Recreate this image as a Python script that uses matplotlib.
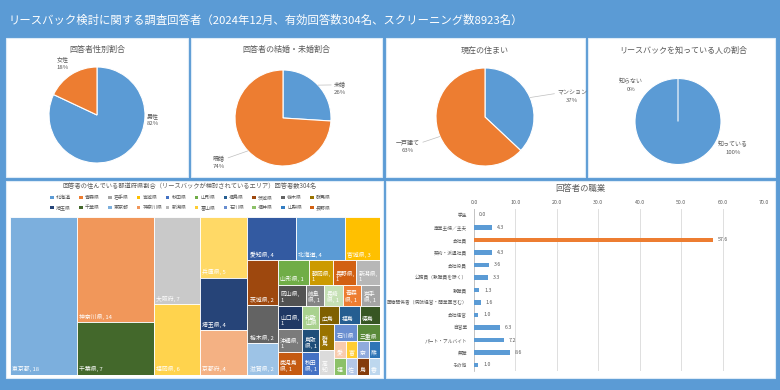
"""Dashboard of the lease-back survey: four pies, a prefecture treemap and an occupation bar chart."""

import numpy as np
import matplotlib
matplotlib.use('Agg')
import matplotlib.pyplot as plt
from matplotlib.patches import Rectangle

plt.rcParams['font.family'] = ['Noto Sans CJK JP', 'DejaVu Sans']

# ---- data ----
title = 'リースバック検討に関する調査回答者（2024年12月、有効回答数304名、スクリーニング数8923名）'

gender_labels = ['男性', '女性']
gender_pct = [82, 18]
marital_labels = ['未婚', '既婚']
marital_pct = [26, 74]
housing_labels = ['マンション', '一戸建て']
housing_pct = [37, 63]
aware_labels = ['知っている', '知らない']
aware_pct = [100, 0]

jobs = ['学生', '専業主婦／主夫', '会社員', '契約・派遣社員', '会社役員', '公務員（教職員を除く）',
        '教職員', '医療関係者（病院経営・開業医含む）', '会社経営', '自営業', 'パート・アルバイト',
        '無職', 'その他']
job_pct = [0.0, 4.3, 57.6, 4.3, 3.6, 3.3, 1.3, 1.6, 1.0, 6.3, 7.2, 8.6, 1.0]

n_resp = 304
prefs = ['東京都', '神奈川県', '千葉県', '大阪府', '福岡県', '兵庫県', '埼玉県', '京都府',
         '愛知県', '北海道', '宮城県', '茨城県', '栃木県', '滋賀県',
         '山形県', '静岡県', '長野県', '新潟県',
         '岡山県', '岐阜県', '長崎県', '青森県', '岩手県',
         '山口県', '沖縄県', '鹿児島県', '和歌山県', '鳥取県', '秋田県',
         '広島県', '福島県', '徳島県', '群馬県', '高知県', '石川県', '三重県',
         '愛媛県', '富山県', '奈良県', '熊本県', '福井県', '佐賀県', '島根県', '香川県']
pref_counts = [55, 42, 21, 21, 17, 15, 13, 11,
               11, 11, 8, 7, 6, 5,
               4, 3, 3, 3,
               3, 2, 2, 2, 2,
               3, 3, 3, 2, 2, 2,
               2, 2, 2, 2, 2, 2, 2,
               1, 1, 1, 1, 1, 1, 1, 1]

# legend entries (prefecture code order)
jis_prefs = ['北海道', '青森県', '岩手県', '宮城県', '秋田県', '山形県', '福島県', '茨城県', '栃木県', '群馬県',
             '埼玉県', '千葉県', '東京都', '神奈川県', '新潟県', '富山県', '石川県', '福井県', '山梨県', '長野県',
             '岐阜県', '静岡県', '愛知県', '三重県', '滋賀県', '京都府', '大阪府', '兵庫県', '奈良県', '和歌山県',
             '鳥取県', '島根県', '岡山県', '広島県', '山口県', '徳島県', '香川県', '愛媛県', '高知県', '福岡県',
             '佐賀県', '長崎県', '熊本県', '鹿児島県', '沖縄県']
jis_colors = ['#5B9BD5', '#ED7D31', '#A5A5A5', '#FFC000', '#4472C4', '#70AD47', '#255E91', '#9E480E', '#636363', '#997300',
              '#264478', '#43682B', '#7CAFDD', '#F1975A', '#B7B7B7', '#FFCD33', '#698ED0', '#8CC168', '#327DC2', '#D26012',
              '#848484', '#CC9A00', '#335AA1', '#5A8A39', '#9DC3E6', '#F4B183', '#C9C9C9', '#FFD966', '#8FAADC', '#A9D18E',
              '#1F4E79', '#843C0C', '#525252', '#7F6000', '#203864', '#375623', '#BDD7EE', '#F8CBAD', '#DBDBDB', '#FFD34D',
              '#B4C7E7', '#C5E0B4', '#2E75B6', '#C55A11', '#7B7B7B']
pref_color = dict(zip(jis_prefs, jis_colors))

# treemap strips: orientation and number of items taken from the remaining area
strips = [('V', 1), ('V', 2), ('V', 2), ('V', 3), ('H', 3), ('V', 3), ('H', 4), ('H', 5),
          ('V', 3), ('V', 3), ('H', 3), ('V', 2), ('H', 2), ('H', 4), ('H', 4)]

# ---- style ----
BG = '#5B9BD5'
BLUE = '#5B9BD5'
ORANGE = '#ED7D31'
GRAY = '#595959'
FW, FH = 780, 390

fig = plt.figure(figsize=(FW / 100, FH / 100), dpi=100, facecolor=BG)
bg = fig.add_axes([0, 0, 1, 1])
bg.set_xlim(0, FW)
bg.set_ylim(FH, 0)
bg.axis('off')


def px_axes(x, y, w, h):
    return fig.add_axes([x / FW, 1 - (y + h) / FH, w / FW, h / FH])


# panels
for (x0, y0, x1, y1) in [(6, 38, 188, 177), (191, 38, 382, 177), (386, 38, 585, 177),
                         (588, 38, 775, 177), (6, 181, 383, 378), (386, 181, 775, 378)]:
    bg.add_patch(Rectangle((x0, y0), x1 - x0, y1 - y0, facecolor='white', edgecolor='#DDEBF7', lw=0.8))

bg.text(9, 20, title, color='white', fontsize=8.2, ha='left', va='center')

# ---- pies ----
pies = [
    (gender_labels, gender_pct, '回答者性別割合', (97, 49), (97, 115, 48),
     [(1.17, -0.1, False), (-0.71, 1.08, False)]),
    (marital_labels, marital_pct, '回答者の結婚・未婚割合', (286, 49), (283, 118, 48),
     [(1.19, 0.62, True), (-1.33, -0.92, True)]),
    (housing_labels, housing_pct, '現在の住まい', (485, 50), (485, 117, 49),
     [(1.78, 0.42, True), (-1.57, -0.6, True)]),
    (aware_labels, aware_pct, 'リースバックを知っている人の割合', (683, 50), (678, 121.5, 43),
     [(1.28, -0.62, False), (-1.09, 0.85, False)]),
]
for labels, vals, ttl, tpos, (cx, cy, r), lpos in pies:
    bg.text(tpos[0], tpos[1], ttl, color=GRAY, fontsize=5.8, ha='center', va='center')
    k = 2.2
    ax = px_axes(cx - k * r, cy - k * r, 2 * k * r, 2 * k * r)
    wedges, _ = ax.pie(vals, colors=[BLUE, ORANGE], startangle=90, counterclock=False,
                       wedgeprops=dict(edgecolor='white', linewidth=0.8))
    ax.set_xlim(-k, k)
    ax.set_ylim(-k, k)
    ax.axis('off')
    for w, lab, v, (lx, ly, leader) in zip(wedges, labels, vals, lpos):
        txt = f'{lab}\n{v}%'
        if leader:
            a = np.deg2rad((w.theta1 + w.theta2) / 2)
            side = 0 if lx > 0 else 1
            ax.annotate(txt, xy=(np.cos(a), np.sin(a)), xytext=(lx, ly), ha='center', va='center',
                        fontsize=4.3, color=GRAY, linespacing=1.6,
                        arrowprops=dict(arrowstyle='-', color='#BFBFBF', lw=0.5,
                                        shrinkA=0, shrinkB=0, relpos=(side, 0.75)))
        else:
            ax.text(lx, ly, txt, ha='center', va='center', fontsize=4.3, color=GRAY, linespacing=1.6)

# ---- treemap ----
bg.text(190, 186, '回答者の住んでいる都道府県割合（リースバックが検討されているエリア）回答者数304名',
        color=GRAY, fontsize=4.5, ha='center', va='center')
for i, p in enumerate(jis_prefs[:20]):
    lx = 52 + (i % 10) * 28.9
    ly = 197.5 + (i // 10) * 10
    bg.add_patch(Rectangle((lx - 1.8, ly - 1.8), 3.6, 3.6, facecolor=pref_color[p], edgecolor='none'))
    bg.text(lx + 4, ly, p, color=GRAY, fontsize=3.6, ha='left', va='center')

TX, TY, TW, TH = 10, 217, 370, 158
tm = px_axes(TX, TY, TW, TH)
tm.set_xlim(0, TW)
tm.set_ylim(TH, 0)
tm.axis('off')

FS = 4.2
FPX = FS * 100 / 72


def tw(s):
    return sum(FPX if ord(c) > 0x2000 else FPX * (0.3 if c in ', ' else 0.56) for c in s)


def fit_label(name, val, w, h):
    avail = w - 4
    nmax = int((h - 4) // (FPX * 1.3))
    full = f'{name}, {val}'
    if nmax < 1 or tw(full[0]) > avail:
        return ''
    if tw(full) <= avail:
        lines = [full]
    elif tw(name + ',') <= avail and tw(str(val)) <= avail:
        lines = [name + ',', str(val)]
    else:
        lines, cur = [], ''
        for c in full:
            if tw(cur + c) > avail:
                lines.append(cur)
                cur = c.lstrip()
            else:
                cur += c
        lines.append(cur)
    if len(lines) > nmax:
        lines = lines[:nmax]
        last = lines[-1]
        if tw(last + '…') <= avail:
            last += '…'
        lines[-1] = last
    return '\n'.join(lines)


def draw_cell(j, cx0, cy0, cw, ch):
    tm.add_patch(Rectangle((cx0, cy0), cw, ch, facecolor=pref_color[prefs[j]], edgecolor='white', lw=0.6))
    pct = int(round(pref_counts[j] / n_resp * 100))
    lab = fit_label(prefs[j], pct, cw, ch)
    tm.text(cx0 + 2.5, cy0 + ch - 2.5, lab, color='white', fontsize=FS, ha='left', va='bottom',
            linespacing=1.15)


x, y, w, h = 0.0, 0.0, float(TW), float(TH)
idx = 0
remaining = float(sum(pref_counts))
for orient, n in strips:
    group = list(range(idx, idx + n))
    s = float(sum(pref_counts[j] for j in group))
    if orient == 'V':
        sw = w * s / remaining
        yy = y
        for j in group:
            ch = h * pref_counts[j] / s
            draw_cell(j, x, yy, sw, ch)
            yy += ch
        x += sw
        w -= sw
    else:
        sh = h * s / remaining
        xx = x
        for j in group:
            cw = w * pref_counts[j] / s
            draw_cell(j, xx, y, cw, sh)
            xx += cw
        y += sh
        h -= sh
    remaining -= s
    idx += n

# ---- occupation bar chart ----
bg.text(580, 189, '回答者の職業', color=GRAY, fontsize=6, ha='center', va='center')
bx = px_axes(474, 208.75, 290, 162.5)
ypos = np.arange(len(jobs))
cols = [ORANGE if v == max(job_pct) else BLUE for v in job_pct]
bx.barh(ypos, job_pct, height=0.38, color=cols, zorder=3)
bx.set_ylim(len(jobs) - 0.5, -0.5)
bx.set_xlim(0, 70)
bx.xaxis.tick_top()
bx.set_xticks(np.arange(0, 71, 10))
bx.set_xticklabels([f'{t:.1f}' for t in range(0, 71, 10)])
bx.set_yticks(ypos)
bx.set_yticklabels(jobs)
bx.tick_params(length=0, labelsize=3.8, colors=GRAY, pad=3)
bx.tick_params(axis='y', labelsize=3.4, pad=5)
bx.grid(axis='x', color='#D9D9D9', lw=0.6, zorder=0)
for sp in ['top', 'right', 'bottom']:
    bx.spines[sp].set_visible(False)
bx.spines['left'].set_color('#BFBFBF')
bx.spines['left'].set_linewidth(0.6)
bx.patch.set_alpha(0)
for yv, v in zip(ypos, job_pct):
    bx.text(v + 1.2, yv, f'{v:.1f}', fontsize=3.8, color=GRAY, va='center', ha='left')

fig.savefig('out.png', dpi=100, facecolor=BG)
